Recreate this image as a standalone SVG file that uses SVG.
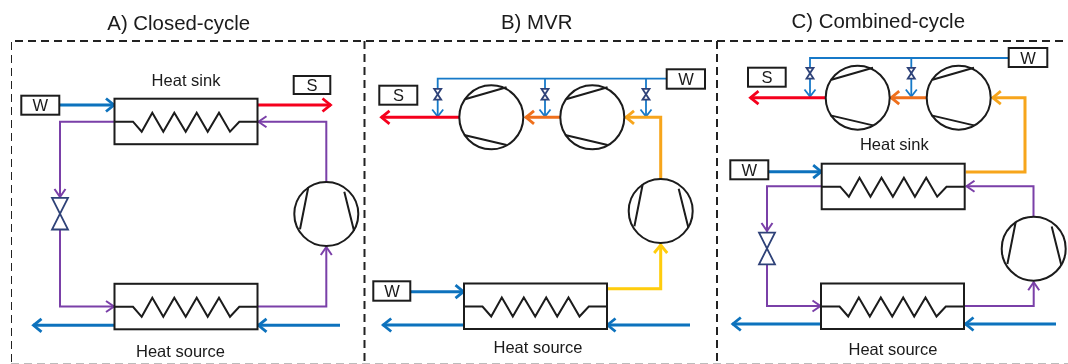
<svg xmlns="http://www.w3.org/2000/svg" width="1068" height="364" viewBox="0 0 1068 364">
<style>
text{font-family:"Liberation Sans",Arial,sans-serif;fill:#1a1a1a;font-size:16.5px}
.t{font-size:20.4px;text-anchor:middle}
.c{text-anchor:middle}
.box{fill:#fff;stroke:#1a1a1a;stroke-width:2}
.sh{fill:none;stroke:#1a1a1a;stroke-width:2}
.hx{fill:#fff;stroke:#1a1a1a;stroke-width:2}
.comp{fill:#fff;stroke:#1a1a1a;stroke-width:2}
.valve{fill:#fff;stroke:#2f4278;stroke-width:1.8}
.dash{fill:none;stroke:#222;stroke-width:2;stroke-dasharray:8 5}
.l{fill:none;stroke-linejoin:miter}
.blue{stroke:#0b72bd;stroke-width:3;marker-end:url(#mb)}
.thin{stroke:#1679c8;stroke-width:1.8}
.thina{stroke:#1679c8;stroke-width:1.8;marker-end:url(#mt)}
.pur{stroke:#7a3fa8;stroke-width:2;marker-end:url(#mp)}
.red{stroke:#f5001e;stroke-width:3;marker-end:url(#mr)}
.ora{stroke:#ef6f1c;stroke-width:3;marker-end:url(#mo)}
.amb{stroke:#f7a51c;stroke-width:3;marker-end:url(#ma)}
.yel{stroke:#ffcc08;stroke-width:3;marker-end:url(#my)}
</style>
<defs>
<filter id="soft" x="0" y="0" width="100%" height="100%"><feGaussianBlur stdDeviation="0.4"/></filter>
<marker id="mb" markerUnits="userSpaceOnUse" markerWidth="16" markerHeight="18" refX="12" refY="9" orient="auto"><path d="M3.500 2.500L11.500 9L3.500 15.500" fill="none" stroke="#0b72bd" stroke-width="2.800"/></marker>
<marker id="mr" markerUnits="userSpaceOnUse" markerWidth="16" markerHeight="18" refX="12" refY="9" orient="auto"><path d="M3.500 2.500L11.500 9L3.500 15.500" fill="none" stroke="#f5001e" stroke-width="2.800"/></marker>
<marker id="mo" markerUnits="userSpaceOnUse" markerWidth="16" markerHeight="18" refX="12" refY="9" orient="auto"><path d="M3.500 2.500L11.500 9L3.500 15.500" fill="none" stroke="#ef6f1c" stroke-width="2.800"/></marker>
<marker id="ma" markerUnits="userSpaceOnUse" markerWidth="16" markerHeight="18" refX="12" refY="9" orient="auto"><path d="M3.500 2.500L11.500 9L3.500 15.500" fill="none" stroke="#f7a51c" stroke-width="2.800"/></marker>
<marker id="my" markerUnits="userSpaceOnUse" markerWidth="16" markerHeight="18" refX="12" refY="9" orient="auto"><path d="M3.500 2.500L11.500 9L3.500 15.500" fill="none" stroke="#ffcc08" stroke-width="2.800"/></marker>
<marker id="mp" markerUnits="userSpaceOnUse" markerWidth="16" markerHeight="18" refX="12" refY="9" orient="auto"><path d="M3.500 3.500L11.500 9L3.500 14.500" fill="none" stroke="#7a3fa8" stroke-width="2"/></marker>
<marker id="mt" markerUnits="userSpaceOnUse" markerWidth="16" markerHeight="18" refX="12" refY="9" orient="auto"><path d="M4.500 3.500L11.500 9L4.500 14.500" fill="none" stroke="#1679c8" stroke-width="1.800"/></marker>
<symbol id="hxs" overflow="visible">
<rect class="hx" x="0" y="0" width="143" height="45.500"/>
<path class="sh" d="M0 23H18.500L27.200 33L37.800 14L48.800 33L59.800 14L71.200 33L82.200 14L93.200 33L104.500 14L115.500 33L124.800 23H143"/>
</symbol>
<symbol id="cv" overflow="visible">
<circle class="comp" r="32"/>
<path class="sh" d="M-18 -26.700L-26.300 15.300M18 -22.300L27.700 16.700"/>
</symbol>
<symbol id="ch" overflow="visible">
<circle class="comp" r="32"/>
<path class="sh" d="M-26.300 -18L15.300 -30M-27.300 17.700L15.300 27.700"/>
</symbol>
<symbol id="vb" overflow="visible"><path class="valve" d="M-8 -15.800H8L-8 15.800H8Z"/></symbol>
<symbol id="vs" overflow="visible"><path class="valve" d="M-3.500 -5.400H3.500L-3.500 5.400H3.500Z"/></symbol>
</defs>
<rect width="1068" height="364" fill="#fff"/>
<g filter="url(#soft)">
<g id="frames">
<path class="dash" d="M11 362V41H1068M364.500 41V362M717 41V362"/>
<path class="dash" d="M11 364.300H1068" stroke-opacity="0.4"/>
</g>
<g id="connectors">
<path class="l blue" d="M59.500 105H114.500"/>
<path class="l red" d="M257 105H331"/>
<path class="l pur" d="M326.300 182V121.700H258"/>
<path class="l pur" d="M115 121.700H60V197.500"/>
<path class="l pur" d="M60 229.500V306.500H114.500"/>
<path class="l pur" d="M257 306.500H326.300V246.500"/>
<path class="l blue" d="M114.500 325.300H33"/>
<path class="l blue" d="M340 325.300H258"/>

<path class="l thin" d="M437.700 99V78.700H666.700M545 78.700V99M646 78.700V99"/>
<path class="l thina" d="M437.700 99V117"/>
<path class="l thina" d="M545 99V117"/>
<path class="l thina" d="M646 99V117"/>
<path class="l red" d="M459 117.300H381"/>
<path class="l ora" d="M561 117.300H525.500"/>
<path class="l amb" d="M660.700 179V117.300H625.500"/>
<path class="l yel" d="M606.700 288.700H660.700V244.500"/>
<path class="l blue" d="M410.500 291.700H464"/>
<path class="l blue" d="M464 325H382.700"/>
<path class="l blue" d="M690 325H607"/>

<path class="l thin" d="M810 78V58H1008.700M911.300 58V78"/>
<path class="l thina" d="M810 78V97"/>
<path class="l thina" d="M911.300 78V97"/>
<path class="l red" d="M825.700 97.700H750"/>
<path class="l ora" d="M926.700 97.700H890.700"/>
<path class="l amb" d="M965.700 172H1025V97.700H992.300"/>
<path class="l blue" d="M768.500 171.700H821.700"/>
<path class="l pur" d="M1033.500 216.700V186.300H966"/>
<path class="l pur" d="M821.700 186.300H767V231.500"/>
<path class="l pur" d="M767 264.300V306H821"/>
<path class="l pur" d="M964.300 306H1033.700V281.700"/>
<path class="l blue" d="M821 324H732.300"/>
<path class="l blue" d="M1056 324H965"/>
</g>
<g id="titles">
<text class="t" x="178.700" y="30">A) Closed-cycle</text>
<text class="t" x="536.700" y="29.300">B) MVR</text>
<text class="t" x="878.300" y="28.300">C) Combined-cycle</text>
</g>
<g id="a-sink"><use href="#hxs" x="114.500" y="98.700"/><text class="c" x="186" y="86">Heat sink</text></g>
<g id="a-source"><use href="#hxs" x="114.500" y="283.800"/><text class="c" x="180.500" y="356.500">Heat source</text></g>
<g id="a-w"><rect class="box" x="21.300" y="95.700" width="38" height="19"/><text class="c" x="40.300" y="111">W</text></g>
<g id="a-s"><rect class="box" x="293.700" y="76" width="36.600" height="18"/><text class="c" x="312" y="91">S</text></g>
<g id="a-valve"><use href="#vb" x="60" y="213.700"/></g>
<g id="a-comp"><use href="#cv" x="326.300" y="214"/></g>

<g id="b-comp1"><use href="#ch" x="491.300" y="117.300"/></g>
<g id="b-comp2"><use href="#ch" x="592.300" y="117.300"/></g>
<g id="b-comp3"><use href="#cv" x="660.700" y="211"/></g>
<g id="b-v1"><use href="#vs" x="437.700" y="94.300"/></g>
<g id="b-v2"><use href="#vs" x="545" y="94.300"/></g>
<g id="b-v3"><use href="#vs" x="646" y="94.300"/></g>
<g id="b-w1"><rect class="box" x="666.700" y="69.300" width="38.300" height="19.400"/><text class="c" x="686" y="85">W</text></g>
<g id="b-s"><rect class="box" x="379.300" y="85.700" width="38" height="19"/><text class="c" x="398.500" y="101">S</text></g>
<g id="b-w2"><rect class="box" x="373.300" y="281.300" width="37" height="19.400"/><text class="c" x="392" y="296.500">W</text></g>
<g id="b-source"><use href="#hxs" x="464" y="283.500"/><text class="c" x="538" y="353">Heat source</text></g>

<g id="c-comp1"><use href="#ch" x="857.700" y="97.700"/></g>
<g id="c-comp2"><use href="#ch" x="958.700" y="97.700"/></g>
<g id="c-comp3"><use href="#cv" x="1033.700" y="248.700"/></g>
<g id="c-v1"><use href="#vs" x="810" y="73.200"/></g>
<g id="c-v2"><use href="#vs" x="911.300" y="73.200"/></g>
<g id="c-v3"><use href="#vb" x="767" y="248.500"/></g>
<g id="c-w1"><rect class="box" x="1008.700" y="48" width="38.600" height="19"/><text class="c" x="1028" y="63.500">W</text></g>
<g id="c-s"><rect class="box" x="748" y="67.700" width="37.700" height="19"/><text class="c" x="767" y="83">S</text></g>
<g id="c-w2"><rect class="box" x="730.300" y="160.300" width="38" height="19"/><text class="c" x="749.300" y="175.500">W</text></g>
<g id="c-sink"><use href="#hxs" x="821.700" y="163.700"/><text class="c" x="894.300" y="150">Heat sink</text></g>
<g id="c-source"><use href="#hxs" x="821" y="283.500"/><text class="c" x="893" y="355">Heat source</text></g>
</g>
</svg>
